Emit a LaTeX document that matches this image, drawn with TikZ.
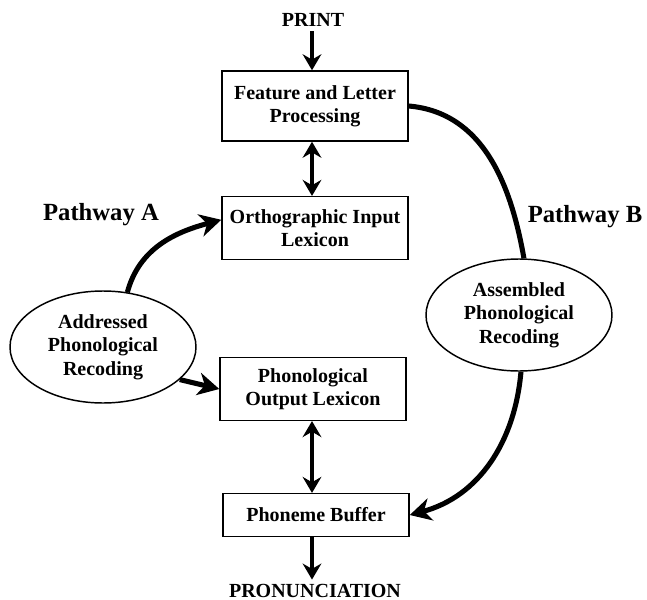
\documentclass[tikz,border=0pt]{standalone}
\usepackage{fontspec}
\setmainfont{Liberation Serif}
\usetikzlibrary{shapes.geometric}
\usetikzlibrary{arrows.meta}

\tikzset{
	stagebox/.style={draw, line width=1.1pt, align=center, inner sep=0pt,
		minimum width=139.5pt, font=\bfseries\fontsize{15}{17.5}\selectfont},
	recoding/.style={draw, ellipse, line width=1.1pt, align=center, inner sep=0pt,
		minimum width=139.5pt, minimum height=84pt, font=\bfseries\fontsize{15}{17.5}\selectfont},
	endword/.style={font=\bfseries\fontsize{15}{17.5}\selectfont},
	pathname/.style={font=\bfseries\fontsize{18.5}{22}\selectfont},
	link/.style={line width=2.4pt, {Stealth[length=12pt,width=14pt,inset=4pt]}-{Stealth[length=12pt,width=14pt,inset=4pt]}},
	onelink/.style={line width=2.4pt, -{Stealth[length=12pt,width=14pt,inset=4pt]}},
	route/.style={line width=3.8pt},
	routearrow/.style={line width=3.8pt, -{Stealth[length=16pt,width=17pt,inset=5pt]}}
}

\begin{document}
		\begin{tikzpicture}[x=0.75pt, y=0.75pt]
			\useasboundingbox (0,0) rectangle (647,-600);
			
			% stages of reading, top to bottom
			\node[endword] (print) at (313,-20) {PRINT};
			\node[stagebox, minimum height=52.5pt] (feat) at (315,-106) {Feature and Letter\\Processing};
			\node[stagebox, minimum height=47pt] (ortho) at (315,-228) {Orthographic Input\\Lexicon};
			\node[stagebox, minimum height=47pt] (phonout) at (313,-389) {Phonological\\Output Lexicon};
			\node[stagebox, minimum height=32pt] (buffer) at (316,-515) {Phoneme Buffer};
			\node[endword] (pron) at (315,-591) {PRONUNCIATION};
			
			% the two recoding routes
			\node[recoding] (addr) at (103,-347) {Addressed\\Phonological\\Recoding};
			\node[recoding] (asm) at (519,-315) {Assembled\\Phonological\\Recoding};
			\node[pathname] (pathA) at (101,-215) {Pathway A};
			\node[pathname] (pathB) at (585,-217) {Pathway B};
			
			\draw[onelink] (print.south -| 312,0) -- (feat.north -| 312,0);
			\draw[link] (feat.south -| 312,0) -- (ortho.north -| 312,0);
			\draw[link] (phonout.south -| 312,0) -- (buffer.north -| 312,0);
			\draw[onelink] (buffer.south -| 312,0) -- (pron.north -| 312,0);
			
			% Pathway A
			\draw[routearrow] (addr.66) to[out=75, in=195] (ortho.175);
			\draw[routearrow] (addr.-23) -- (phonout.west);
			% Pathway B
			\draw[route] (feat.east) to[out=-5, in=100] (asm.85);
			\draw[routearrow] (asm.-88) to[out=-95, in=15] (buffer.east);
		\end{tikzpicture}
\end{document}
